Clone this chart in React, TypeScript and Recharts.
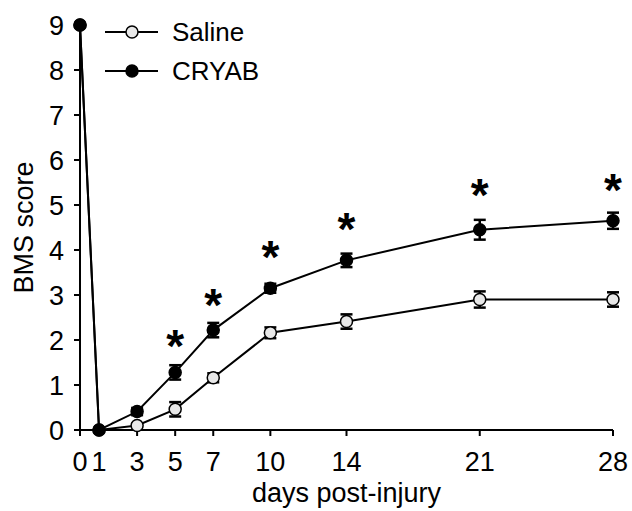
import React from 'react';
import { ComposedChart, Line, XAxis, YAxis, ErrorBar } from 'recharts';

const days = [0, 1, 3, 5, 7, 10, 14, 21, 28];
const salineMean = [9, 0, 0.1, 0.46, 1.16, 2.16, 2.41, 2.9, 2.9];
const salineErr = [0, 0, 0.04, 0.16, 0.1, 0.12, 0.16, 0.18, 0.16];
const cryabMean = [9, 0, 0.41, 1.28, 2.22, 3.15, 3.77, 4.45, 4.65];
const cryabErr = [0, 0, 0.08, 0.16, 0.16, 0.1, 0.15, 0.22, 0.18];
// where the significance asterisks sit (score units)
const sigLevel = [null, null, null, 2.02, 2.94, 4.0, 4.63, 5.37, 5.5];
const yTicks = [0, 1, 2, 3, 4, 5, 6, 7, 8, 9];

const FONT = '"Liberation Sans", Arial, sans-serif';

const rows = days.map((d, i) => ({
    day: d,
    saline: salineMean[i],
    salineErr: salineErr[i],
    cryab: cryabMean[i],
    cryabErr: cryabErr[i],
    sig: sigLevel[i],
}));

const Star = (props: any) => {
    const { cx, cy, value, index } = props;
    if (value == null || cy == null || isNaN(cy)) return <g key={`s${index}`} />;
    return (
        <text
            key={`s${index}`}
            x={cx}
            y={cy + 23}
            textAnchor="middle"
            fontFamily={FONT}
            fontWeight="bold"
            fontSize={46}
            fill="#000"
        >
            *
        </text>
    );
};

const YLabel = (props: any) => {
    const vb = props.viewBox;
    const cy = vb.y + vb.height / 2;
    return (
        <text
            x={33}
            y={cy}
            transform={`rotate(-90, 33, ${cy})`}
            textAnchor="middle"
            fontFamily={FONT}
            fontSize={27}
            fill="#000"
        >
            BMS score
        </text>
    );
};

function Legend() {
    return (
        <svg width={200} height={100} style={{ position: 'absolute', left: 100, top: 0 }}>
            <line x1={5} x2={58} y1={32} y2={32} stroke="#000" strokeWidth={2} />
            <circle cx={32} cy={32} r={6} fill="#e8e8e8" stroke="#000" strokeWidth={1.5} />
            <text x={72} y={32} dy="0.36em" fontFamily={FONT} fontSize={26} fill="#000">Saline</text>
            <line x1={5} x2={58} y1={71} y2={71} stroke="#000" strokeWidth={2} />
            <circle cx={32} cy={71} r={6} fill="#000" stroke="#000" strokeWidth={1.5} />
            <text x={72} y={71} dy="0.36em" fontFamily={FONT} fontSize={26} fill="#000">CRYAB</text>
        </svg>
    );
}

export default function App() {
    const tickStyle = { fontSize: 27, fontFamily: FONT, fill: '#000' };
    return (
        <div style={{ position: 'absolute', left: 0, top: 0, width: 632, height: 511, background: '#fff' }}>
            <ComposedChart width={632} height={511} data={rows} margin={{ top: 25, right: 19, bottom: 0, left: 0 }}>
                <XAxis
                    dataKey="day"
                    type="number"
                    domain={[0, 28]}
                    ticks={days}
                    interval={0}
                    height={81}
                    tickSize={6}
                    tickMargin={16}
                    tick={tickStyle}
                    axisLine={{ stroke: '#000', strokeWidth: 2 }}
                    tickLine={{ stroke: '#000', strokeWidth: 2 }}
                    label={{ value: 'days post-injury', position: 'insideBottom', offset: 9, fontSize: 27, fontFamily: FONT, fill: '#000' }}
                />
                <YAxis
                    type="number"
                    domain={[0, 9]}
                    ticks={yTicks}
                    interval={0}
                    width={80}
                    tickSize={6}
                    tickMargin={10}
                    tick={tickStyle}
                    axisLine={{ stroke: '#000', strokeWidth: 2 }}
                    tickLine={{ stroke: '#000', strokeWidth: 2 }}
                    label={{ content: YLabel }}
                />
                <Line
                    dataKey="saline"
                    type="linear"
                    stroke="#000"
                    strokeWidth={2}
                    dot={{ r: 6, fill: '#e8e8e8', stroke: '#000', strokeWidth: 1.5 }}
                    activeDot={false}
                    isAnimationActive={false}
                >
                    <ErrorBar dataKey="salineErr" direction="y" width={6} stroke="#000" strokeWidth={2.5} />
                </Line>
                <Line
                    dataKey="cryab"
                    type="linear"
                    stroke="#000"
                    strokeWidth={2}
                    dot={{ r: 6, fill: '#000', stroke: '#000', strokeWidth: 1.5 }}
                    activeDot={false}
                    isAnimationActive={false}
                >
                    <ErrorBar dataKey="cryabErr" direction="y" width={6} stroke="#000" strokeWidth={2.5} />
                </Line>
                <Line
                    dataKey="sig"
                    stroke="none"
                    dot={Star}
                    activeDot={false}
                    isAnimationActive={false}
                />
            </ComposedChart>
            <Legend />
        </div>
    );
}
